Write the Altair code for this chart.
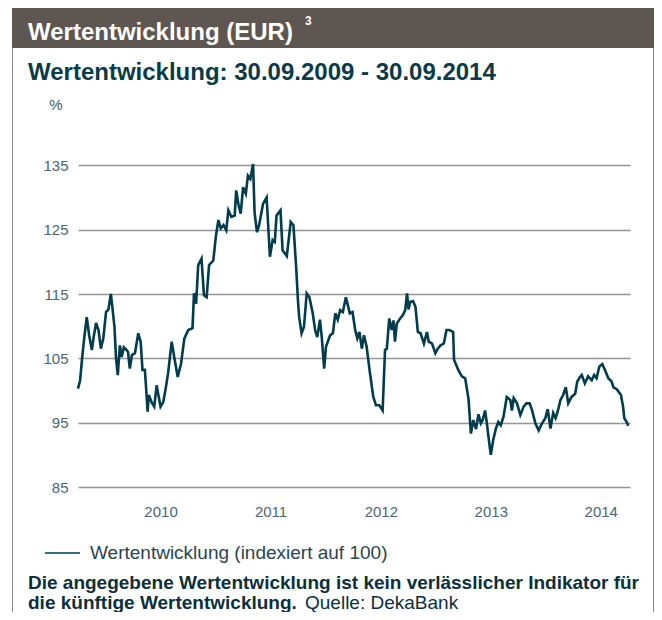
import altair as alt
import pandas as pd

# ---- data ----
dates = [
    "2009-09-30", "2009-10-07", "2009-10-14", "2009-10-21", "2009-10-29", "2009-11-06", "2009-11-15",
    "2009-11-22", "2009-11-29", "2009-12-07", "2009-12-15", "2009-12-23", "2010-01-01", "2010-01-09",
    "2010-01-17", "2010-01-22", "2010-01-29", "2010-02-03", "2010-02-09", "2010-02-16", "2010-02-22",
    "2010-03-01", "2010-03-10", "2010-03-15", "2010-03-21", "2010-03-28", "2010-04-07", "2010-04-18",
    "2010-04-26", "2010-05-02", "2010-05-10", "2010-05-13", "2010-05-19", "2010-05-23", "2010-06-01",
    "2010-06-10", "2010-06-18", "2010-06-23", "2010-07-01", "2010-07-10", "2010-07-18", "2010-07-26",
    "2010-08-07", "2010-08-16", "2010-08-27", "2010-09-07", "2010-09-18", "2010-10-01", "2010-10-15",
    "2010-10-20", "2010-10-27", "2010-11-03", "2010-11-14", "2010-11-22", "2010-12-01", "2010-12-09",
    "2010-12-23", "2011-01-01", "2011-01-09", "2011-01-17", "2011-01-26", "2011-02-04", "2011-02-11",
    "2011-02-21", "2011-03-04", "2011-03-09", "2011-03-17", "2011-03-24", "2011-04-01", "2011-04-10",
    "2011-04-17", "2011-04-25", "2011-05-04", "2011-05-09", "2011-05-17", "2011-05-24", "2011-06-06",
    "2011-06-18", "2011-06-29", "2011-07-08", "2011-07-15", "2011-07-21", "2011-08-03", "2011-08-10",
    "2011-08-24", "2011-09-06", "2011-09-15", "2011-09-24", "2011-09-30", "2011-10-04", "2011-10-12",
    "2011-10-20", "2011-10-29", "2011-11-07", "2011-11-18", "2011-11-26", "2011-12-03", "2011-12-12",
    "2011-12-18", "2011-12-26", "2012-01-01", "2012-01-15", "2012-01-24", "2012-02-01", "2012-02-09",
    "2012-02-17", "2012-02-26", "2012-03-07", "2012-03-15", "2012-03-20", "2012-03-29", "2012-04-07",
    "2012-04-14", "2012-04-21", "2012-04-29", "2012-05-06", "2012-05-15", "2012-05-26", "2012-06-06",
    "2012-06-15", "2012-06-26", "2012-07-07", "2012-07-15", "2012-07-21", "2012-07-29", "2012-08-06",
    "2012-08-12", "2012-08-17", "2012-08-23", "2012-09-03", "2012-09-12", "2012-09-20", "2012-09-26",
    "2012-10-01", "2012-10-07", "2012-10-16", "2012-10-24", "2012-11-01", "2012-11-10", "2012-11-21",
    "2012-12-01", "2012-12-07", "2012-12-18", "2012-12-29", "2013-01-06", "2013-01-15", "2013-01-26",
    "2013-02-04", "2013-02-14", "2013-02-26", "2013-03-01", "2013-03-15", "2013-03-27", "2013-04-07",
    "2013-04-18", "2013-04-26", "2013-05-04", "2013-05-13", "2013-05-21", "2013-05-29", "2013-06-04",
    "2013-06-12", "2013-06-18", "2013-06-26", "2013-07-01", "2013-07-09", "2013-07-18", "2013-07-26",
    "2013-08-03", "2013-08-12", "2013-08-23", "2013-09-04", "2013-09-09", "2013-09-15", "2013-09-26",
    "2013-10-07", "2013-10-18", "2013-10-27", "2013-11-07", "2013-11-15", "2013-11-26", "2013-12-07",
    "2013-12-18", "2013-12-29", "2014-01-06", "2014-01-15", "2014-01-24", "2014-02-01", "2014-02-09",
    "2014-02-17", "2014-02-26", "2014-03-07", "2014-03-15", "2014-03-26", "2014-04-07", "2014-04-14",
    "2014-04-23", "2014-04-29", "2014-05-09", "2014-05-20", "2014-06-01", "2014-06-09", "2014-06-17",
    "2014-06-26", "2014-07-06", "2014-07-15", "2014-07-26", "2014-08-06", "2014-08-12", "2014-08-23",
    "2014-09-06", "2014-09-13", "2014-09-17", "2014-09-26", "2014-09-30",
]
values = [
    100.3, 101.6, 105.2, 108.3, 111.4, 108.6, 106.3,
    108.6, 110.5, 109.4, 106.5, 108.1, 112.2, 112.6,
    115.0, 113.0, 109.9, 105.2, 102.4, 107.0, 105.2,
    106.7, 106.3, 106.0, 103.4, 105.5, 105.8, 108.9,
    107.6, 103.2, 103.2, 101.1, 96.7, 99.3, 98.2,
    97.5, 100.8, 99.5, 97.5, 98.2, 100.3, 102.7,
    107.6, 105.0, 102.1, 104.2, 108.1, 109.4, 109.7,
    115.1, 113.5, 119.5, 120.5, 114.8, 114.5, 119.5,
    120.2, 124.1, 126.5, 125.2, 125.7, 124.9, 128.0,
    127.0, 127.2, 131.1, 128.8, 127.5, 131.6, 130.6,
    133.4, 132.9, 135.2, 127.7, 124.6, 125.7, 129.0,
    130.0, 120.8, 123.4, 123.1, 127.2, 128.0, 121.8,
    120.9, 126.2, 125.7, 119.2, 114.0, 111.4, 108.9,
    109.9, 115.1, 114.5, 112.0, 109.4, 108.3, 111.0,
    108.3, 103.4, 106.8, 108.6, 108.9, 112.0, 111.0,
    112.5, 112.2, 114.5, 113.0, 112.0, 112.2, 109.4,
    108.1, 109.1, 106.5, 108.6, 106.8, 102.7, 99.0,
    97.7, 97.7, 96.9, 106.3, 106.5, 111.2, 109.4,
    110.9, 107.6, 110.4, 111.2, 111.7, 112.5, 115.1,
    112.6, 113.8, 113.9, 113.0, 109.1, 108.9, 107.3,
    109.1, 107.6, 107.3, 105.8, 106.5, 107.0, 107.3,
    109.4, 109.4, 109.1, 104.8, 103.2, 102.2, 101.9,
    98.7, 93.3, 95.4, 94.0, 96.3, 94.9, 95.4,
    96.9, 94.9, 91.8, 90.0, 92.3, 94.1, 95.1,
    94.6, 95.9, 99.0, 98.5, 96.9, 98.8, 98.0,
    96.2, 97.5, 98.0, 98.0, 96.9, 94.9, 93.8,
    94.9, 95.7, 97.1, 94.1, 96.5, 95.7, 96.9,
    98.5, 99.3, 100.5, 98.0, 99.0, 99.5, 101.4,
    102.1, 102.4, 101.1, 102.2, 101.6, 102.4, 101.9,
    103.7, 104.1, 103.2, 101.9, 101.4, 100.5, 100.2,
    99.3, 97.5, 95.7, 95.0, 94.5,
]
y_ticks = [85, 95, 105, 115, 125, 135]
x_tick_years = [2010, 2011, 2012, 2013, 2014]

header_text = "Wertentwicklung (EUR)"
header_sup = "3"
subtitle_text = "Wertentwicklung: 30.09.2009 - 30.09.2014"
unit_text = "%"
legend_text = "Wertentwicklung (indexiert auf 100)"
footer_bold_1 = "Die angegebene Wertentwicklung ist kein verlässlicher Indikator für"
footer_bold_2 = "die künftige Wertentwicklung."
footer_regular = "Quelle: DekaBank"

df = pd.DataFrame({"date": dates, "value": values})
one = pd.DataFrame({"k": [0]})

FONT = "Liberation Sans"
LINE_COLOR = "#003c4b"
TICK_COLOR = "#4c6572"
PLOT_W, PLOT_H = 552, 386

line = alt.Chart(df).mark_line(color=LINE_COLOR, strokeWidth=2.6).encode(
    x=alt.X(
        "date:T",
        scale=alt.Scale(
            domain=[alt.DateTime(year=2009, month=9, date=30, utc=True),
                    alt.DateTime(year=2014, month=10, date=6, utc=True)],
            nice=False,
        ),
        axis=alt.Axis(
            values=[alt.DateTime(year=y, month=7, date=1, utc=True) for y in x_tick_years],
            labelExpr="utcFormat(datum.value, '%Y')",
            grid=False, domain=False, ticks=False,
            labelPadding=17, labelFont=FONT, labelFontSize=15, labelColor=TICK_COLOR,
            title=None,
        ),
    ),
    y=alt.Y(
        "value:Q",
        scale=alt.Scale(domain=[85, 145], nice=False, zero=False),
        axis=alt.Axis(
            values=y_ticks, grid=True, gridColor="#959595", gridWidth=1.5,
            domain=False, ticks=False, labelPadding=10, labelFont=FONT,
            labelFontSize=15, labelColor=TICK_COLOR, title=None,
        ),
    ),
)

def txt(text, x, y, size, color, weight="normal", align="left", baseline="alphabetic"):
    return alt.Chart(one).mark_text(
        text=text, font=FONT, fontSize=size, color=color, fontWeight=weight,
        align=align, baseline=baseline,
    ).encode(x=alt.value(x), y=alt.value(y))

header_bar = alt.Chart(one).mark_rect(color="#5e5651").encode(
    x=alt.value(-66), x2=alt.value(576), y=alt.value(-95), y2=alt.value(-53)
)
left_border = alt.Chart(one).mark_rule(color="#8a8a8a", strokeWidth=1).encode(
    x=alt.value(-65.5), y=alt.value(-53), y2=alt.value(520)
)
right_border = alt.Chart(one).mark_rule(color="#8a8a8a", strokeWidth=1).encode(
    x=alt.value(575.5), y=alt.value(-53), y2=alt.value(520)
)
legend_line = alt.Chart(one).mark_rule(color=LINE_COLOR, strokeWidth=1.5).encode(
    x=alt.value(-33), x2=alt.value(2), y=alt.value(452),
)

chart = alt.layer(
    header_bar,
    left_border,
    right_border,
    line,
    txt(header_text, -50, -61, 24, "white", "bold"),
    txt(header_sup, 227, -76, 12, "white", "bold"),
    txt(subtitle_text, -50, -21, 24, "#0b3a47", "bold"),
    txt(unit_text, -22, 4, 15, "#3e5966", align="center", baseline="middle"),
    legend_line,
    txt(legend_text, 12, 452, 19, "#2a4450", baseline="middle"),
    txt(footer_bold_1, -50, 488, 19, "#0b2f3b", "bold"),
    txt(footer_bold_2, -50, 508, 19, "#0b2f3b", "bold"),
    txt(footer_regular, 227, 508, 19, "#0b2f3b"),
).properties(
    width=PLOT_W,
    height=PLOT_H,
    padding={"left": 70, "top": 93, "right": 24, "bottom": 125},
    autosize="none",
).configure_view(stroke=None)

chart.save("out.html", embed_options={"renderer": "svg", "actions": False})
